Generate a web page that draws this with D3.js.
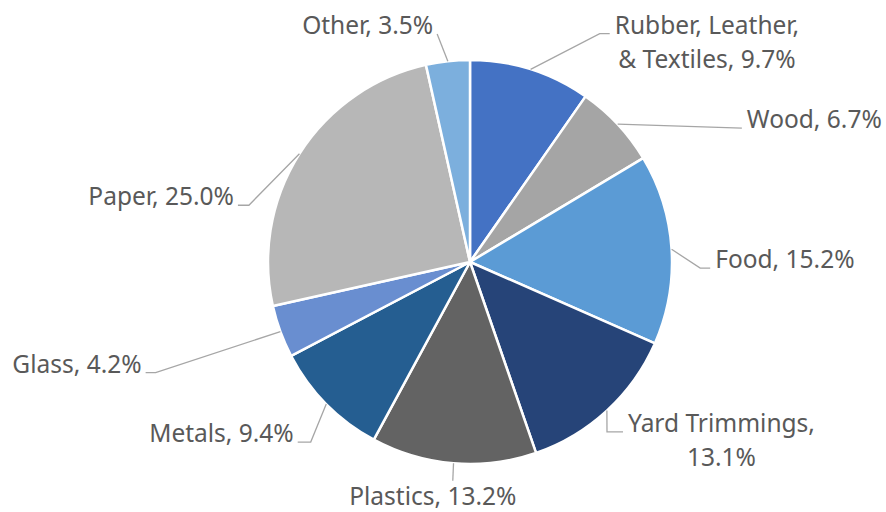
<!DOCTYPE html>
<html>
<head>
<meta charset="utf-8">
<script src="https://cdn.jsdelivr.net/npm/d3@7"></script>
<style>
  body { margin: 0; background: #fff; }
  svg { display: block; }
</style>
</head>
<body>
<div id="chart"></div>
<script>
// data
const categories = ['Rubber, Leather, & Textiles', 'Wood', 'Food', 'Yard Trimmings', 'Plastics', 'Metals', 'Glass', 'Paper', 'Other']
const shares = [9.7, 6.7, 15.2, 13.1, 13.2, 9.4, 4.2, 25.0, 3.5]
const colors = ['#4472C4', '#A5A5A5', '#5B9BD5', '#264478', '#636363', '#255E91', '#698ED0', '#B7B7B7', '#7CAFDD']

// label placement (polar: degrees clockwise from top, radius as factor of pie radius)
const labelLayout = [
  { ang: 29.6, rf: 1.30, tail: 10, side: 'right', wrap: 2 },
  { ang: 63.8, rf: 1.50, tail: 0, side: 'right' },
  { ang: 91.5, rf: 1.14, tail: 10, side: 'right' },
  { ang: 141.1, rf: 1.08, tail: 16, side: 'right', wrap: 2 },
  { ang: 184.5, rf: 1.086, tail: 0, side: 'below' },
  { ang: 221.5, rf: 1.19, tail: -13, side: 'left' },
  { ang: 250.6, rf: 1.65, tail: -10, side: 'left' },
  { ang: 284.4, rf: 1.13, tail: -11, side: 'left' },
  { ang: 351.8, rf: 1.14, tail: 0, side: 'left' }
]

const width = 886
const height = 512
const cx = 470
const cy = 262
const radius = 202

const svg = d3.select('#chart').append('svg')
  .attr('width', width)
  .attr('height', height)
  .style('font-family', '"Noto Sans", sans-serif')

const data = categories.map((c, i) => ({ name: c, value: shares[i], color: colors[i], layout: labelLayout[i] }))

const pie = d3.pie().sort(null).value(d => d.value)
const arc = d3.arc().innerRadius(0).outerRadius(radius)

const g = svg.append('g').attr('transform', `translate(${cx},${cy})`)

const arcs = pie(data)

g.selectAll('path.slice')
  .data(arcs)
  .enter()
  .append('path')
  .attr('class', 'slice')
  .attr('d', arc)
  .attr('fill', d => d.data.color)
  .attr('stroke', '#fff')
  .attr('stroke-width', 2.5)
  .attr('stroke-linejoin', 'round')

const polar = (a, r) => [r * Math.sin(a), -r * Math.cos(a)]
const fmt = d3.format('.1f')

arcs.forEach(d => {
  const L = d.data.layout
  const mid = (d.startAngle + d.endAngle) / 2
  const p0 = polar(mid, radius)
  const p1 = polar(L.ang * Math.PI / 180, radius * L.rf)
  const p2 = [p1[0] + L.tail, p1[1]]

  g.append('polyline')
    .attr('points', [p0, p1, p2].map(p => p.join(',')).join(' '))
    .attr('fill', 'none')
    .attr('stroke', '#A6A6A6')
    .attr('stroke-width', 1.3)

  const full = `${d.data.name}, ${fmt(d.data.value)}%`
  let lines = [full]
  if (L.wrap) {
    const words = full.split(' ')
    lines = [words.slice(0, L.wrap).join(' '), words.slice(L.wrap).join(' ')]
  }

  const txt = g.append('text')
    .attr('fill', '#595959')
    .style('font-size', '24.5px')

  lines.forEach((ln, i) => {
    txt.append('tspan').attr('dy', i === 0 ? 0 : 34).text(ln)
  })

  if (L.side === 'below') {
    txt.attr('text-anchor', 'middle')
    txt.selectAll('tspan').attr('x', p2[0] - 20)
    txt.attr('y', p2[1] + 24)
  } else if (L.side === 'right') {
    const x0 = p2[0] + 5
    if (lines.length > 1) {
      let w = 0
      txt.selectAll('tspan').each(function() { w = Math.max(w, this.getComputedTextLength()) })
      txt.attr('text-anchor', 'middle')
      txt.selectAll('tspan').attr('x', x0 + w / 2)
    } else {
      txt.attr('text-anchor', 'start')
      txt.selectAll('tspan').attr('x', x0)
    }
    txt.attr('y', p2[1])
  } else {
    txt.attr('text-anchor', 'end')
    txt.selectAll('tspan').attr('x', p2[0] - 4)
    txt.attr('y', p2[1])
  }
})
</script>
</body>
</html>
